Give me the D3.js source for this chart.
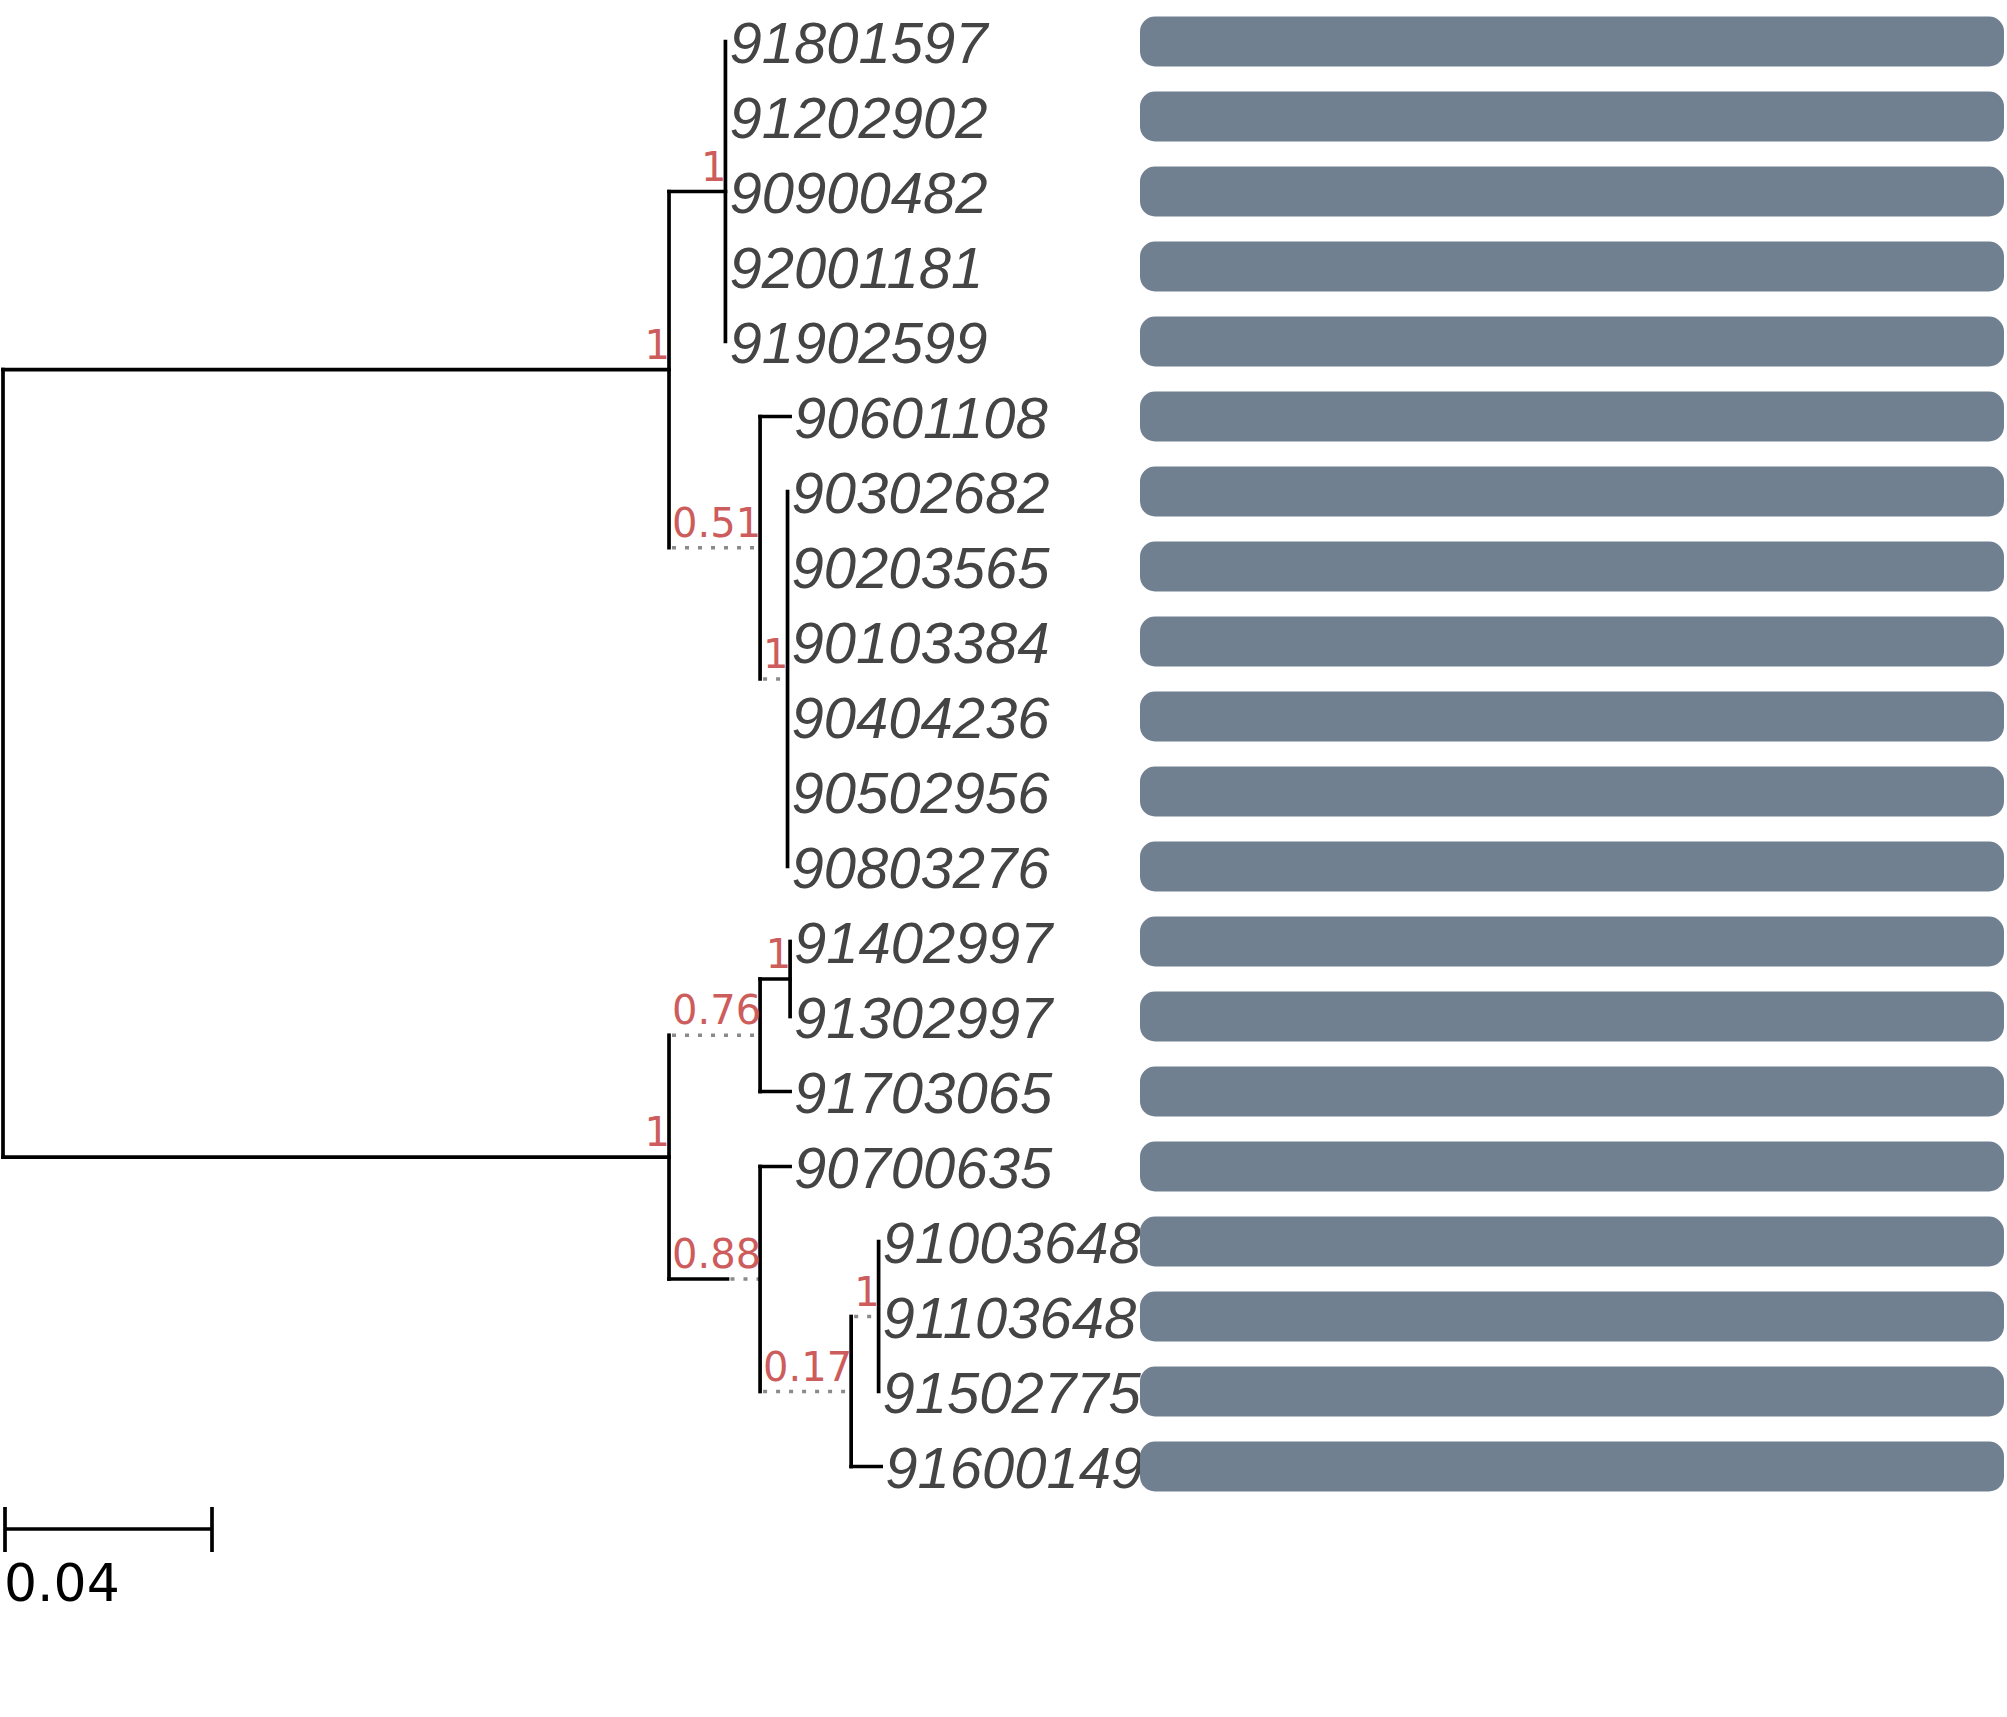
<!DOCTYPE html>
<html>
<head>
<meta charset="utf-8">
<script src="https://cdn.jsdelivr.net/npm/d3@7"></script>
<style>
  body { margin: 0; background: #fff; }
</style>
</head>
<body>
<svg id="chart"></svg>
<script>
// tips, top to bottom
const tipNames = ["91801597", "91202902", "90900482", "92001181", "91902599",
  "90601108", "90302682", "90203565", "90103384", "90404236", "90502956", "90803276",
  "91402997", "91302997", "91703065", "90700635", "91003648", "91103648", "91502775", "91600149"];
const tipParents = ["cA", "cA", "cA", "cA", "cA",
  "n2", "cB", "cB", "cB", "cB", "cB", "cB",
  "n6", "n6", "n4", "n5", "n8", "n8", "n8", "n7"];
const tipDists = [0, 0, 0, 0, 0,
  0.0058, 0, 0, 0, 0, 0, 0,
  0, 0, 0.0058, 0.0058, 0, 0, 0, 0.0058];

// internal nodes
const nodeIds      = ["root", "n1", "cA", "n2", "cB", "n3", "n4", "n6", "n5", "n7", "n8"];
const nodeParents  = ["", "root", "n1", "n1", "n2", "root", "n3", "n4", "n3", "n5", "n7"];
const nodeDists    = [0, 0.1287, 0.0109, 0, 0, 0.1287, 0, 0.0058, 0.0113, 0, 0];
const nodeSupports = ["", "1", "1", "0.51", "1", "1", "0.76", "1", "0.88", "0.17", "1"];

// aligned bar face for every tip
const barValues = [1, 1, 1, 1, 1, 1, 1, 1, 1, 1, 1, 1, 1, 1, 1, 1, 1, 1, 1, 1];
const scaleBarValue = 0.04;

const width = 2007, height = 1717;
const lineW = 3.7;
const supportFont = "DejaVu Sans";
const supportSize = 40;

const svg = d3.select("#chart")
    .attr("width", width)
    .attr("height", height)
    .style("display", "block");

svg.append("rect").attr("width", width).attr("height", height).attr("fill", "#fff");

let rows = nodeIds.map((id, i) => ({id: id, parent: nodeParents[i] || null, dist: nodeDists[i], support: nodeSupports[i]}))
    .concat(tipNames.map((name, i) => ({id: name, parent: tipParents[i], dist: tipDists[i], support: ""})));

const root = d3.stratify()
    .id(d => d.id)
    .parentId(d => d.parent)(rows);

// branch length scale (0.04 -> 207px)
const xDist = d3.scaleLinear().domain([0, scaleBarValue]).range([0, 207]);
const yTip = d3.scalePoint().domain(tipNames).range([41.5, 41.5 + 75 * (tipNames.length - 1)]);
const xBar = d3.scaleLinear().domain([0, 1]).range([1140, 2004]);

// measure support text so short branches get stretched with a dotted line
const measure = svg.append("text")
    .attr("font-family", supportFont)
    .attr("font-size", supportSize);
let supportWidth = (s) => {
    if (!s) return 0;
    measure.text(s);
    return measure.node().getComputedTextLength() + 2;
};

root.eachBefore(node => {
    if (!node.parent) { node.px = 3; return; }
    node.solid = xDist(node.data.dist);
    node.ext = Math.max(node.solid, supportWidth(node.data.support));
    node.px = node.parent.px + node.ext;
});
measure.remove();

root.eachAfter(node => {
    if (!node.children) {
        node.py = yTip(node.id);
    } else {
        let ys = node.children.map(c => c.py);
        node.minY = d3.min(ys);
        node.maxY = d3.max(ys);
        node.py = (node.minY + node.maxY) / 2;
    }
});

const gTree = svg.append("g");

// horizontal branches
root.descendants().filter(d => d.parent).forEach(d => {
    let x0 = d.parent.px;
    if (d.solid > 0) {
        gTree.append("line")
            .attr("x1", x0).attr("x2", x0 + d.solid)
            .attr("y1", d.py).attr("y2", d.py)
            .attr("stroke", "#000").attr("stroke-width", lineW)
            .attr("stroke-linecap", "square");
    }
    if (d.ext > d.solid + 0.5) {
        gTree.append("line")
            .attr("x1", x0 + d.solid + 3).attr("x2", d.px)
            .attr("y1", d.py).attr("y2", d.py)
            .attr("stroke", "#8a8a8a").attr("stroke-width", lineW)
            .attr("stroke-dasharray", "4,9");
    }
});

// vertical connectors
root.descendants().filter(d => d.children).forEach(d => {
    gTree.append("line")
        .attr("x1", d.px).attr("x2", d.px)
        .attr("y1", d.minY - lineW / 2).attr("y2", d.maxY + lineW / 2)
        .attr("stroke", "#000").attr("stroke-width", lineW);
});

// support values above branches
gTree.selectAll("text.support")
    .data(root.descendants().filter(d => d.data.support))
    .enter()
    .append("text")
        .attr("class", "support")
        .attr("x", d => d.px + 1)
        .attr("y", d => d.py - 11)
        .attr("text-anchor", "end")
        .attr("font-family", supportFont)
        .attr("font-size", supportSize)
        .attr("fill", "#cd5c5c")
        .text(d => d.data.support);

// tip labels
gTree.selectAll("text.tip")
    .data(root.leaves())
    .enter()
    .append("text")
        .attr("class", "tip")
        .attr("x", d => d.px + 4)
        .attr("y", d => d.py + 21)
        .attr("font-family", "Liberation Sans, Arial, sans-serif")
        .attr("font-style", "italic")
        .attr("font-size", 58)
        .attr("fill", "#444")
        .text(d => d.id);

// aligned bars
svg.append("g").selectAll("rect")
    .data(tipNames)
    .enter()
    .append("rect")
        .attr("x", xBar(0))
        .attr("y", d => yTip(d) - 25)
        .attr("width", (d, i) => xBar(barValues[i]) - xBar(0))
        .attr("height", 50)
        .attr("rx", 15)
        .attr("fill", "#708090");

// scale bar
const gScale = svg.append("g");
const sx = d3.scaleLinear().domain([0, scaleBarValue]).range([5, 5 + xDist(scaleBarValue)]);
gScale.append("line")
    .attr("x1", sx(0)).attr("x2", sx(scaleBarValue))
    .attr("y1", 1529).attr("y2", 1529)
    .attr("stroke", "#000").attr("stroke-width", lineW);
[0, scaleBarValue].forEach(v => {
    gScale.append("line")
        .attr("x1", sx(v)).attr("x2", sx(v))
        .attr("y1", 1507).attr("y2", 1552)
        .attr("stroke", "#000").attr("stroke-width", lineW);
});
gScale.append("text")
    .attr("x", 4)
    .attr("y", 1601)
    .attr("font-family", "DejaVu Sans")
    .attr("font-size", 52)
    .attr("fill", "#000")
    .text(scaleBarValue);
</script>
</body>
</html>
